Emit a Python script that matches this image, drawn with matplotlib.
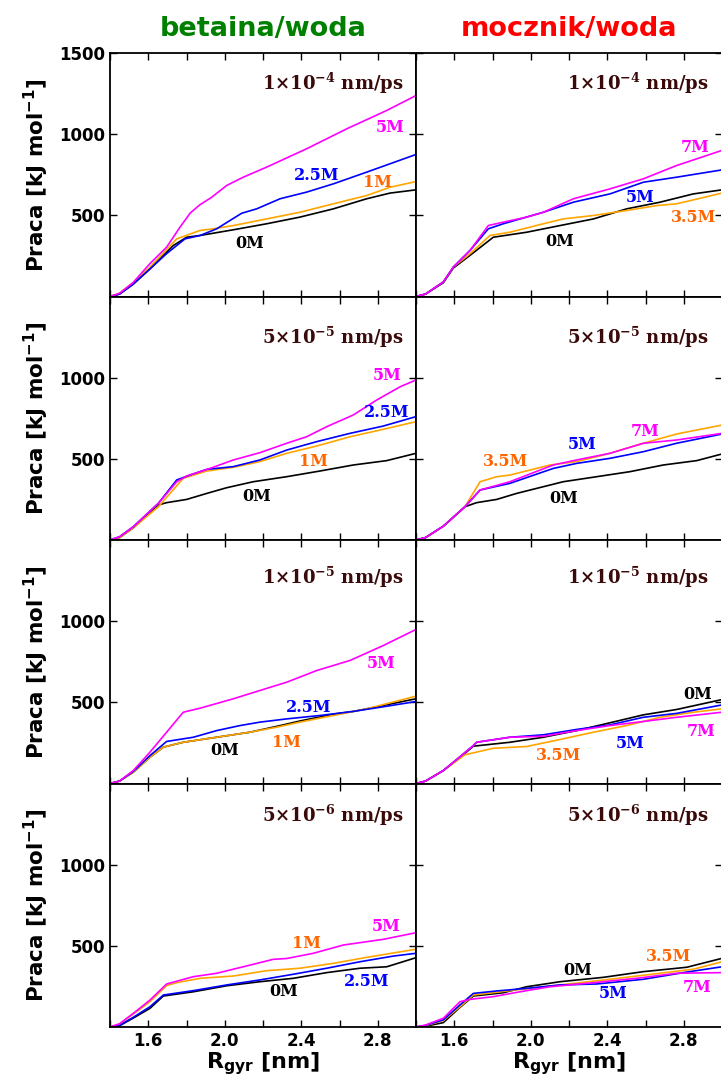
import matplotlib
matplotlib.use("Agg")
import matplotlib.pyplot as plt
from matplotlib.ticker import FixedLocator

# pulling speeds (one per row) and column titles
speeds = ["1×10$^{\\mathbf{-4}}$ nm/ps", "5×10$^{\\mathbf{-5}}$ nm/ps",
          "1×10$^{\\mathbf{-5}}$ nm/ps", "5×10$^{\\mathbf{-6}}$ nm/ps"]
titles = ["betaina/woda", "mocznik/woda"]

# ---- betaina/woda, 1e-4 ----
b1_5M = ([1.40, 1.45, 1.52, 1.609, 1.696, 1.766, 1.820, 1.870, 1.930, 2.010, 2.097, 2.219, 2.428, 2.638, 2.847, 3.0],
         [0, 20, 85, 203, 304, 427, 515, 565, 610, 684, 735, 797, 910, 1033, 1146, 1238])
b1_25M = ([1.40, 1.45, 1.52, 1.609, 1.696, 1.792, 1.871, 1.958, 2.027, 2.089, 2.167, 2.289, 2.428, 2.568, 2.742, 3.0],
          [0, 15, 75, 170, 264, 355, 376, 417, 468, 513, 540, 602, 643, 694, 766, 875])
b1_1M = ([1.40, 1.45, 1.52, 1.609, 1.749, 1.871, 1.940, 2.045, 2.219, 2.393, 2.568, 2.742, 2.864, 3.0],
         [0, 20, 85, 181, 355, 407, 417, 437, 478, 519, 571, 622, 673, 708])
b1_0M = ([1.40, 1.45, 1.52, 1.609, 1.731, 1.801, 1.871, 2.045, 2.219, 2.393, 2.568, 2.742, 2.864, 3.0],
         [0, 15, 75, 170, 314, 365, 376, 411, 448, 489, 540, 602, 637, 657])

# ---- mocznik/woda, 1e-4 ----
m1_7M = ([1.40, 1.45, 1.543, 1.595, 1.682, 1.778, 1.856, 1.979, 2.066, 2.223, 2.414, 2.589, 2.763, 3.0],
         [0, 15, 90, 181, 283, 437, 458, 489, 519, 602, 663, 725, 807, 900])
m1_5M = ([1.40, 1.45, 1.543, 1.595, 1.682, 1.778, 1.856, 2.066, 2.223, 2.414, 2.589, 2.763, 3.0],
         [0, 15, 90, 181, 283, 417, 448, 519, 581, 632, 704, 735, 780])
m1_35M = ([1.40, 1.45, 1.543, 1.595, 1.682, 1.787, 1.891, 2.066, 2.170, 2.328, 2.502, 2.658, 2.763, 3.0],
          [0, 15, 90, 181, 263, 376, 396, 448, 478, 499, 530, 560, 571, 637])
m1_0M = ([1.40, 1.45, 1.543, 1.595, 1.682, 1.804, 1.979, 2.153, 2.328, 2.502, 2.676, 2.850, 3.0],
         [0, 15, 85, 175, 253, 365, 396, 437, 478, 540, 581, 632, 657])

# ---- betaina/woda, 5e-5 ----
b2_5M = ([1.40, 1.45, 1.522, 1.653, 1.749, 1.801, 1.923, 2.045, 2.184, 2.324, 2.428, 2.533, 2.672, 2.794, 2.917, 3.0],
         [0, 20, 82, 226, 359, 394, 441, 493, 538, 596, 636, 698, 770, 862, 944, 986])
b2_25M = ([1.40, 1.45, 1.522, 1.653, 1.749, 1.818, 1.906, 2.045, 2.184, 2.324, 2.481, 2.655, 2.829, 3.0],
          [0, 20, 82, 226, 370, 400, 435, 452, 493, 554, 606, 657, 702, 760])
b2_1M = ([1.40, 1.45, 1.522, 1.653, 1.783, 1.906, 2.045, 2.184, 2.324, 2.481, 2.655, 2.829, 3.0],
         [0, 15, 75, 205, 380, 425, 448, 483, 534, 579, 636, 682, 729])
b2_0M = ([1.40, 1.45, 1.522, 1.653, 1.696, 1.801, 1.906, 2.010, 2.149, 2.324, 2.498, 2.672, 2.847, 3.0],
         [0, 15, 75, 216, 230, 250, 287, 322, 359, 390, 425, 462, 489, 534])

# ---- mocznik/woda, 5e-5 ----
m2_35M = ([1.40, 1.45, 1.543, 1.656, 1.735, 1.822, 1.891, 2.101, 2.240, 2.414, 2.589, 2.763, 3.0],
          [0, 15, 85, 205, 359, 390, 400, 462, 483, 534, 596, 653, 708])
m2_7M = ([1.40, 1.45, 1.543, 1.656, 1.735, 1.891, 2.118, 2.240, 2.414, 2.589, 2.763, 3.0],
         [0, 15, 85, 205, 308, 359, 462, 493, 534, 596, 616, 657])
m2_5M = ([1.40, 1.45, 1.543, 1.656, 1.735, 1.891, 2.118, 2.240, 2.414, 2.589, 2.763, 3.0],
         [0, 15, 85, 205, 308, 349, 441, 472, 503, 544, 596, 653])
m2_0M = ([1.40, 1.45, 1.543, 1.656, 1.717, 1.822, 1.926, 2.031, 2.170, 2.345, 2.519, 2.693, 2.868, 3.0],
         [0, 15, 85, 205, 230, 250, 287, 318, 359, 390, 421, 462, 489, 530])

# ---- betaina/woda, 1e-5 ----
b3_5M = ([1.40, 1.45, 1.522, 1.609, 1.696, 1.783, 1.871, 2.045, 2.184, 2.324, 2.481, 2.655, 2.829, 3.0],
         [0, 15, 80, 193, 316, 439, 464, 522, 573, 624, 696, 758, 850, 949])
b3_25M = ([1.40, 1.45, 1.522, 1.609, 1.696, 1.836, 1.958, 2.080, 2.184, 2.324, 2.498, 2.672, 2.847, 3.0],
          [0, 15, 75, 172, 259, 285, 326, 357, 378, 398, 419, 444, 476, 505])
b3_1M = ([1.40, 1.45, 1.522, 1.609, 1.679, 1.783, 1.958, 2.132, 2.272, 2.393, 2.568, 2.742, 3.0],
         [0, 15, 70, 162, 224, 254, 285, 316, 347, 378, 419, 460, 538])
b3_0M = ([1.40, 1.45, 1.522, 1.609, 1.679, 1.783, 1.958, 2.132, 2.272, 2.393, 2.568, 2.672, 2.742, 3.0],
         [0, 15, 70, 162, 224, 254, 285, 316, 352, 385, 427, 444, 460, 522])

# ---- mocznik/woda, 1e-5 ----
m3_7M = ([1.40, 1.45, 1.543, 1.630, 1.700, 1.717, 1.891, 2.066, 2.240, 2.414, 2.589, 2.763, 3.0],
         [0, 15, 80, 165, 234, 254, 285, 291, 326, 357, 382, 408, 439])
m3_5M = ([1.40, 1.45, 1.543, 1.630, 1.700, 1.717, 1.891, 2.066, 2.240, 2.414, 2.589, 2.763, 3.0],
         [0, 15, 80, 165, 234, 254, 285, 300, 333, 361, 408, 432, 484])
m3_0M = ([1.40, 1.45, 1.543, 1.630, 1.700, 1.891, 2.066, 2.240, 2.414, 2.589, 2.763, 3.0],
         [0, 15, 80, 160, 230, 254, 285, 326, 374, 423, 456, 517])
m3_35M = ([1.40, 1.45, 1.543, 1.656, 1.804, 1.979, 2.153, 2.328, 2.502, 2.676, 2.850, 3.0],
          [0, 15, 80, 177, 217, 228, 271, 316, 357, 408, 439, 460])

# ---- betaina/woda, 5e-6 ----
b4_5M = ([1.40, 1.45, 1.522, 1.609, 1.696, 1.836, 1.958, 2.114, 2.254, 2.324, 2.463, 2.620, 2.829, 3.0],
         [0, 20, 84, 166, 265, 310, 331, 376, 417, 422, 454, 505, 540, 581])
b4_1M = ([1.40, 1.45, 1.522, 1.609, 1.696, 1.749, 1.871, 2.045, 2.219, 2.393, 2.568, 2.742, 3.0],
         [0, 18, 80, 156, 255, 273, 300, 314, 347, 362, 392, 429, 479])
b4_25M = ([1.40, 1.45, 1.522, 1.609, 1.679, 1.836, 2.010, 2.184, 2.359, 2.533, 2.707, 2.882, 3.0],
          [0, 10, 60, 125, 197, 224, 259, 290, 325, 362, 402, 437, 454])
b4_0M = ([1.40, 1.45, 1.522, 1.609, 1.679, 1.836, 2.010, 2.184, 2.359, 2.533, 2.707, 2.847, 3.0],
         [0, 8, 55, 115, 191, 217, 254, 279, 300, 335, 362, 371, 427])

# ---- mocznik/woda, 5e-6 ----
m4_7M = ([1.40, 1.45, 1.543, 1.630, 1.682, 1.804, 1.944, 2.101, 2.328, 2.554, 2.763, 3.0],
         [0, 12, 54, 156, 170, 187, 217, 248, 273, 300, 331, 335])
m4_5M = ([1.40, 1.45, 1.543, 1.630, 1.700, 1.822, 1.979, 2.153, 2.345, 2.589, 2.798, 3.0],
         [0, 10, 44, 136, 207, 222, 238, 259, 265, 294, 335, 371])
m4_35M = ([1.40, 1.45, 1.543, 1.630, 1.700, 1.891, 2.153, 2.414, 2.676, 2.850, 3.0],
          [0, 8, 40, 125, 197, 224, 259, 294, 331, 356, 402])
m4_0M = ([1.40, 1.45, 1.543, 1.630, 1.700, 1.856, 1.979, 2.153, 2.380, 2.589, 2.816, 3.0],
         [0, 5, 27, 121, 191, 211, 248, 279, 306, 341, 368, 423])

MAG, BLU, ORA, BLK = "#ff00ff", "#0000ff", "#ffa500", "black"
ORA_TXT = "#ff6600"
SPEED_COL = "#3a0a0a"

# (series, line colour, label, label colour, label x, label y)
panels = [
    [(b1_0M, BLK, "0M", BLK, 2.13, 328), (b1_1M, ORA, "1M", ORA_TXT, 2.80, 704),
     (b1_25M, BLU, "2.5M", BLU, 2.48, 745), (b1_5M, MAG, "5M", MAG, 2.864, 1043)],
    [(m1_0M, BLK, "0M", BLK, 2.153, 341), (m1_35M, ORA, "3.5M", ORA_TXT, 2.85, 489),
     (m1_5M, BLU, "5M", BLU, 2.572, 612), (m1_7M, MAG, "7M", MAG, 2.858, 920)],
    [(b2_0M, BLK, "0M", BLK, 2.167, 267), (b2_1M, ORA, "1M", ORA_TXT, 2.463, 483),
     (b2_25M, BLU, "2.5M", BLU, 2.847, 784), (b2_5M, MAG, "5M", MAG, 2.847, 1016)],
    [(m2_0M, BLK, "0M", BLK, 2.17, 257), (m2_35M, ORA, "3.5M", ORA_TXT, 1.87, 483),
     (m2_5M, BLU, "5M", BLU, 2.269, 591), (m2_7M, MAG, "7M", MAG, 2.60, 667)],
    [(b3_0M, BLK, "0M", BLK, 2.00, 203), (b3_1M, ORA, "1M", ORA_TXT, 2.324, 254),
     (b3_25M, BLU, "2.5M", BLU, 2.437, 470), (b3_5M, MAG, "5M", MAG, 2.82, 737)],
    [(m3_0M, BLK, "0M", BLK, 2.875, 546), (m3_35M, ORA, "3.5M", ORA_TXT, 2.144, 172),
     (m3_5M, BLU, "5M", BLU, 2.519, 245), (m3_7M, MAG, "7M", MAG, 2.89, 320)],
    [(b4_0M, BLK, "0M", BLK, 2.306, 217), (b4_1M, ORA, "1M", ORA_TXT, 2.428, 516),
     (b4_25M, BLU, "2.5M", BLU, 2.742, 283), (b4_5M, MAG, "5M", MAG, 2.846, 618)],
    [(m4_0M, BLK, "0M", BLK, 2.246, 347), (m4_35M, ORA, "3.5M", ORA_TXT, 2.72, 433),
     (m4_5M, BLU, "5M", BLU, 2.43, 208), (m4_7M, MAG, "7M", MAG, 2.87, 245)],
]
speed_y = [0.877, 0.832, 0.848, 0.869]

W, H = 721, 1076
fig = plt.figure(figsize=(W / 100, H / 100), dpi=100)
plt.rcParams['font.weight'] = 'bold'

top = 53
row_h = 243.5
col_left = [110, 416]
col_w = 306

for k, series in enumerate(panels):
    row, col = k // 2, k % 2
    b = 1 - (top + row_h * (row + 1)) / H
    ax = fig.add_axes([col_left[col] / W, b, col_w / W, row_h / H])
    for data, c, lab, lc, lx, ly in series:
        ax.plot(data[0], data[1], color=c, lw=1.2)
        ax.text(lx, ly, lab, color=lc, family="DejaVu Serif", fontweight="bold",
                fontsize=11.5, ha="center", va="center", math_fontfamily="dejavuserif")
    ax.text(0.958 if col == 0 else 0.955, speed_y[row], speeds[row], transform=ax.transAxes,
            ha="right", va="center", color=SPEED_COL, family="DejaVu Serif",
            fontweight="bold", fontsize=13, math_fontfamily="dejavuserif")
    ax.set_xlim(1.4, 3.0)
    ax.set_ylim(0, 1500)
    ax.xaxis.set_major_locator(FixedLocator([1.6, 2.0, 2.4, 2.8]))
    ax.xaxis.set_minor_locator(FixedLocator([1.4, 1.8, 2.2, 2.6, 3.0]))
    ax.yaxis.set_major_locator(FixedLocator([500, 1000, 1500] if row == 0 else [500, 1000]))
    ax.tick_params(which="both", direction="in", top=True, right=True, length=5, width=1)
    ax.tick_params(labelsize=12)
    for s in ax.spines.values():
        s.set_linewidth(1.3)
    if col == 1:
        ax.set_yticklabels([])
    else:
        ax.set_ylabel(r"Praca [kJ mol$^{\mathbf{-1}}$]", fontsize=15.5, fontweight="bold", labelpad=6)
    if row < 3:
        ax.set_xticklabels([])
    else:
        ax.set_xlabel(r"$\mathbf{R_{gyr}}$ [nm]", fontsize=16, fontweight="bold", labelpad=0)
    for lbl in ax.get_xticklabels() + ax.get_yticklabels():
        lbl.set_fontweight("bold")
    if row == 0:
        ax.set_title(titles[col], color="green" if col == 0 else "red",
                     fontsize=19.5, fontweight="bold", pad=12)

fig.savefig("out.png", dpi=100)
